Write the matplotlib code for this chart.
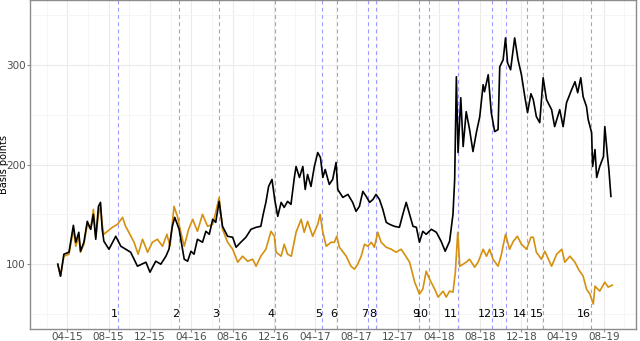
import matplotlib
matplotlib.use("Agg")
import matplotlib.pyplot as plt
import matplotlib.dates as mdates
import pandas as pd

# days counted from this origin
origin = pd.Timestamp("2015-03-01")

# black series (Italy spread ?)
black_day = [3, 11, 21, 36, 49, 56, 65, 70, 80, 90, 100, 108, 115, 123, 129, 134, 139, 154, 174, 189,
             218, 238, 263, 275, 292, 307, 322, 331, 341, 348, 361, 376, 386, 396, 405, 415, 430, 440,
             450, 460, 469, 479, 489, 504, 519, 529, 543, 558, 573, 588, 602, 609, 617, 625, 635, 643,
             652, 662, 671, 681, 691, 701, 706, 716, 726, 733, 740, 750, 760, 770, 778, 785, 792, 804,
             814, 824, 829, 844, 859, 873, 883, 893, 903, 913, 923, 933, 942, 952, 962, 972, 982, 996,
             1011, 1021, 1031, 1041, 1051, 1061, 1070, 1080, 1090, 1105, 1120, 1134, 1146, 1159, 1169,
             1174, 1179, 1184, 1192, 1199, 1208, 1218, 1228, 1238, 1248, 1258, 1262, 1273, 1282, 1292,
             1302, 1307, 1317, 1324, 1330, 1339, 1351, 1361, 1371, 1381, 1389, 1399, 1406, 1415, 1425,
             1435, 1445, 1460, 1469, 1484, 1494, 1504, 1519, 1529, 1537, 1546, 1553, 1563, 1568, 1578,
             1581, 1588, 1593, 1602, 1613, 1617, 1625, 1629, 1635]
black_val = [100, 88, 110, 112, 139, 122, 132, 113, 122, 143, 135, 150, 125, 158, 162, 135, 123, 115, 128, 118,
             112, 98, 102, 92, 103, 100, 108, 115, 138, 147, 135, 105, 103, 113, 110, 125, 122, 133,
             130, 145, 142, 163, 138, 128, 127, 117, 122, 127, 135, 137, 138, 150, 162, 178, 185, 165,
             148, 162, 157, 163, 160, 187, 198, 187, 198, 175, 190, 178, 198, 212, 207, 187, 195, 180,
             185, 202, 175, 167, 170, 162, 153, 158, 173, 168, 162, 165, 170, 165, 155, 142, 140, 138,
             137, 150, 162, 150, 138, 137, 122, 133, 130, 135, 132, 123, 113, 123, 150,
             185, 288, 212, 267, 218, 253, 235, 213, 232, 248, 280, 273, 290, 252, 233,
             235, 298, 305, 327, 302, 295, 327, 305, 290, 268, 252, 271, 265, 248, 242,
             287, 265, 255, 238, 255, 238, 262, 275, 283, 272, 287, 268, 258, 245, 232,
             198, 215, 187, 198, 208, 238, 208, 195, 168]

# orange series (Spain spread ?)
orange_day = [3, 11, 21, 36, 49, 56, 65, 70, 80, 90, 100, 108, 115, 123, 129, 134, 139, 164, 179, 194,
              203, 208, 228, 240, 253, 268, 282, 297, 312, 325, 334, 346, 356, 366, 376, 389, 401, 415,
              430, 445, 460, 469, 479, 489, 504, 519, 534, 548, 563, 578, 588, 602, 617, 632, 642, 647,
              662, 671, 681, 692, 706, 721, 730, 740, 755, 770, 777, 785, 795, 809, 819, 826, 834, 854,
              868, 878, 888, 898, 908, 918, 928, 937, 947, 957, 972, 987, 1001, 1016, 1026, 1041, 1056,
              1070, 1080, 1090, 1100, 1115, 1125, 1140, 1149, 1159, 1169, 1176, 1183, 1189, 1199, 1208,
              1218, 1233, 1243, 1258, 1268, 1277, 1287, 1302, 1312, 1324, 1336, 1347, 1359, 1371, 1386,
              1399, 1406, 1415, 1430, 1440, 1460, 1475, 1490, 1499, 1514, 1529, 1539, 1553, 1563, 1573,
              1583, 1588, 1602, 1617, 1627, 1639]
orange_val = [100, 88, 108, 110, 135, 118, 128, 112, 120, 140, 135, 155, 128, 150, 158, 140, 130, 137, 140, 147,
              138, 135, 122, 110, 125, 112, 122, 125, 118, 130, 118, 158, 148, 132, 118, 135, 145, 133,
              150, 138, 140, 152, 167, 135, 122, 115, 102, 108, 103, 105, 98, 108, 115, 133, 128, 112,
              108, 120, 110, 108, 132, 145, 132, 143, 128, 140, 150, 132, 118, 122, 122, 128, 117, 108,
              98, 95, 100, 108, 120, 118, 122, 117, 132, 122, 117, 115, 112, 115, 110, 102, 82,
              70, 75, 93, 85, 75, 67, 73, 67, 73, 72, 92, 132, 98, 100, 102,
              105, 97, 102, 115, 108, 115, 105, 98, 110, 130, 115, 123, 128, 120, 115,
              127, 127, 112, 105, 113, 98, 110, 115, 102, 108, 102, 95, 88, 75, 70,
              60, 78, 73, 82, 77, 79]

# vertical event markers
event_dates = ["2015-08-29", "2016-02-24", "2016-06-23", "2016-12-04", "2017-04-22", "2017-06-05",
               "2017-09-05", "2017-09-29", "2018-02-03", "2018-03-02", "2018-05-27", "2018-09-04",
               "2018-10-17", "2018-12-18", "2019-02-04", "2019-06-24"]
event_labels = [str(i) for i in range(1, 17)]

bx = [origin + pd.Timedelta(days=d) for d in black_day]
ox = [origin + pd.Timedelta(days=d) for d in orange_day]
ev = pd.to_datetime(event_dates)

fig = plt.figure(figsize=(6.4, 3.41), dpi=100)
ax = fig.add_axes([30 / 640, 12 / 341, 606 / 640, 329 / 341])

ax.plot(ox, orange_val, color="#D4900E", lw=1.2, zorder=3)
ax.plot(bx, black_val, color="black", lw=1.2, zorder=4)

for d, lab in zip(ev, event_labels):
    ax.axvline(d, color="#9C9CFF", lw=0.8, ls=(0, (3.5, 3)), zorder=2)
    ax.text(d, 50, lab, ha="right", va="center", fontsize=8, color="black", zorder=5)

ax.set_xlim(pd.Timestamp("2014-12-12"), pd.Timestamp("2019-11-04"))
ax.set_ylim(35, 365)

ax.xaxis.set_major_locator(mdates.MonthLocator(bymonth=[4, 8, 12]))
ax.xaxis.set_minor_locator(mdates.MonthLocator(bymonth=[2, 6, 10]))
ax.xaxis.set_major_formatter(mdates.DateFormatter("%m\u2013%y"))
ax.set_yticks([100, 200, 300])
ax.set_yticks([50, 150, 250, 350], minor=True)

ax.grid(True, which="major", color="#EBEBEB", lw=0.8, zorder=0)
ax.grid(True, which="minor", color="#F4F4F4", lw=0.6, zorder=0)
ax.set_axisbelow(True)

for s in ax.spines.values():
    s.set_color("#8C8C8C")
    s.set_linewidth(1.0)

ax.tick_params(which="major", length=2, color="#8C8C8C", labelcolor="#4D4D4D", labelsize=7.5)
ax.tick_params(axis="x", which="major", pad=0.5)
ax.tick_params(axis="y", which="major", pad=1)
ax.tick_params(which="minor", length=0)
ax.set_ylabel("Basis points", fontsize=7)
ax.yaxis.set_label_coords(-0.034, 0.5)

fig.savefig("out.png", dpi=100)
